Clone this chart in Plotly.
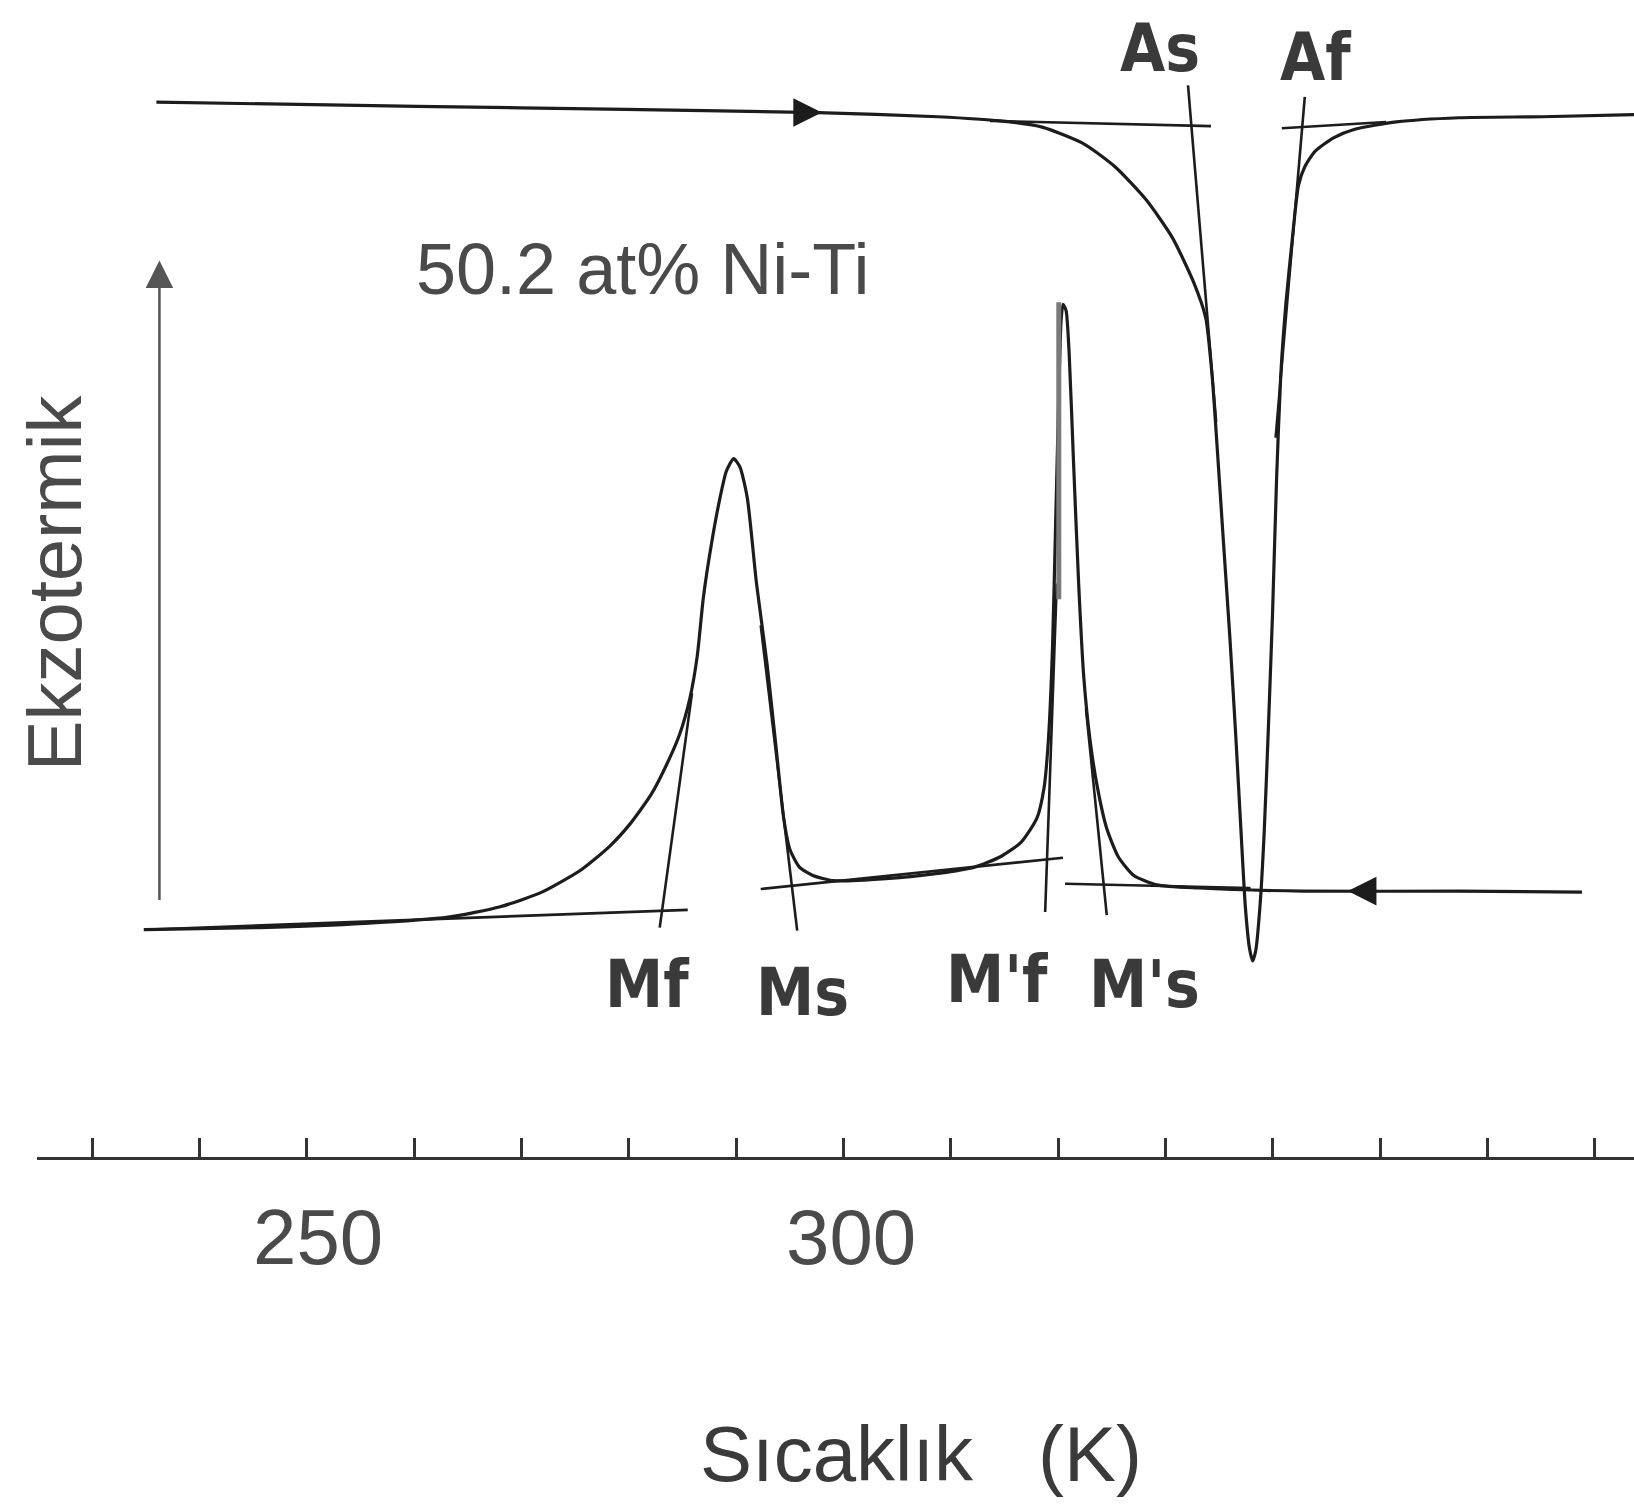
import plotly.graph_objects as go

# ---------------- data (temperature in K, signal in arbitrary units) ----------------
heat_T = [236.0, 260.26, 279.68, 297.64, 308.81, 314.63, 318.52, 322.4, 325.31, 328.23,
          330.65, 332.6, 333.76, 334.35, 334.83, 335.41, 336.0, 336.58, 337.06, 337.45,
          337.84, 338.13, 338.42, 338.81, 339.2, 339.59, 339.98, 340.36, 340.75, 341.24,
          341.82, 342.4, 342.99, 343.96, 345.71, 347.65, 351.53, 357.35, 365.12, 373.67]
heat_sig = [10.13, 10.09, 10.06, 10.03, 9.99, 9.95, 9.89, 9.73, 9.51, 9.19,
            8.83, 8.41, 8.06, 7.51, 6.81, 5.91, 5.01, 4.01, 3.11, 2.41,
            2.01, 1.89, 1.99, 2.41, 3.11, 4.11, 5.21, 6.51, 7.51, 8.21,
            8.81, 9.33, 9.51, 9.66, 9.79, 9.87, 9.94, 9.98, 9.99, 10.01]

cool_T = [234.83, 245.7, 255.41, 263.18, 268.03, 271.91, 275.51, 278.22, 280.17, 282.11,
          283.56, 284.73, 285.7, 286.38, 286.96, 287.74, 288.52, 289.1, 289.78, 290.36,
          291.04, 291.91, 292.89, 293.76, 294.44, 295.02, 295.9, 297.16, 299.1, 303.96,
          308.81, 312.21, 314.63, 316.57, 318.03, 318.71, 319.1, 319.49, 319.78, 320.07,
          320.27, 320.46, 320.75, 321.04, 321.43, 321.92, 322.4, 322.98, 323.66, 324.54,
          325.61, 327.06, 329.2, 333.08, 342.79, 357.35, 368.81]
cool_sig = [2.19, 2.21, 2.25, 2.31, 2.41, 2.55, 2.76, 2.99, 3.21, 3.49,
            3.78, 4.06, 4.41, 4.81, 5.38, 5.91, 6.34, 6.59, 6.71, 6.63,
            6.34, 5.51, 4.74, 3.91, 3.26, 2.96, 2.79, 2.71, 2.66, 2.68,
            2.73, 2.79, 2.89, 3.03, 3.26, 3.56, 4.01, 4.91, 6.11, 7.31,
            8.01, 8.19, 8.13, 7.71, 6.71, 5.51, 4.61, 4.01, 3.56, 3.16,
            2.89, 2.71, 2.62, 2.59, 2.56, 2.56, 2.55]

# construction (tangent) lines: [T_start, T_end], [sig_start, sig_end]
tangent_T = [[313.66, 334.25], [332.11, 334.73], [342.99, 340.27], [340.85, 350.56],
             [234.83, 285.5], [282.89, 285.9], [295.7, 292.3], [292.3, 320.46],
             [318.8, 319.88], [324.54, 322.6], [320.65, 337.93]]
tangent_sig = [[9.95, 9.90], [10.29, 7.06], [10.18, 6.91], [9.88, 9.94],
               [2.19, 2.38], [2.21, 4.46], [2.18, 5.11], [2.58, 2.88],
               [2.36, 5.51], [2.33, 4.31], [2.63, 2.59]]

point_labels = ["As", "Af", "Mf", "Ms", "M'f", "M's"]
label_T = [329.49, 343.96, 281.72, 296.19, 314.34, 328.03]
label_sig = [10.64, 10.56, 1.66, 1.59, 1.71, 1.66]

tick_label_vals = [250, 300]
tick_label_T = [251.04, 300.75]

# scanned-figure marks
artifact_T = [320.07, 320.07]
artifact_sig = [8.21, 5.36]
yarrow_T = 236.28
yarrow_sig = [2.46, 8.61]
heat_arrow = (298.0, 10.03)
cool_arrow = (347.0, 2.56)

x_range = [221.427, 373.66]
y_range = [-3.33, 11.11]
axis_start = 224.83

LINE = "#1c1c1c"
TEXT = "#3a3a3a"

fig = go.Figure()

fig.add_trace(go.Scatter(x=heat_T, y=heat_sig, mode="lines",
                         line=dict(color=LINE, width=3.2, shape="spline", smoothing=0.6),
                         hoverinfo="skip", showlegend=False))
fig.add_trace(go.Scatter(x=cool_T, y=cool_sig, mode="lines",
                         line=dict(color=LINE, width=3.2, shape="spline", smoothing=0.6),
                         hoverinfo="skip", showlegend=False))
for tx, ty in zip(tangent_T, tangent_sig):
    fig.add_trace(go.Scatter(x=tx, y=ty, mode="lines",
                             line=dict(color=LINE, width=2.6),
                             hoverinfo="skip", showlegend=False))
fig.add_trace(go.Scatter(x=artifact_T, y=artifact_sig, mode="lines",
                         line=dict(color="#7a7a7a", width=5),
                         hoverinfo="skip", showlegend=False))

# invisible trace for the ticked temperature axis
fig.add_trace(go.Scatter(x=[250], y=[0], xaxis="x2", yaxis="y", mode="markers",
                         marker=dict(opacity=0), hoverinfo="skip", showlegend=False))

annotations = []
for txt, tx, ty in zip(point_labels, label_T, label_sig):
    annotations.append(dict(x=tx, y=ty, xref="x", yref="y", text=txt, showarrow=False,
                            font=dict(family="DejaVu Sans Condensed, Liberation Sans",
                                      size=65, color=TEXT, weight=700)))
for v, tx in zip(tick_label_vals, tick_label_T):
    annotations.append(dict(x=tx, y=-0.76, xref="x", yref="y", text=str(v), showarrow=False,
                            font=dict(family="Liberation Sans", size=78, color="#4a4a4a")))
annotations.append(dict(x=281.33, y=8.53, xref="x", yref="y", text="50.2 at% Ni-Ti",
                        showarrow=False, font=dict(family="Liberation Sans", size=72, color="#4a4a4a")))
annotations.append(dict(x=226.52, y=5.52, xref="x", yref="y", text="Ekzotermik", textangle=-90,
                        showarrow=False, font=dict(family="Liberation Sans", size=76, color="#4a4a4a")))
annotations.append(dict(x=307.26, y=-2.84, xref="x", yref="y", text="Sıcaklık   (K)",
                        showarrow=False, font=dict(family="Liberation Sans", size=78, color=TEXT)))
# exothermic arrow
annotations.append(dict(x=yarrow_T, y=yarrow_sig[1], ax=yarrow_T, ay=yarrow_sig[0],
                        xref="x", yref="y", axref="x", ayref="y", text="", showarrow=True,
                        arrowhead=2, arrowsize=2.2, arrowwidth=2.5, arrowcolor="#555555"))
# direction arrows
annotations.append(dict(x=heat_arrow[0], y=heat_arrow[1], ax=-30, ay=0, xref="x", yref="y",
                        text="", showarrow=True, arrowhead=2, arrowsize=2.2, arrowwidth=2.6,
                        arrowcolor=LINE))
annotations.append(dict(x=cool_arrow[0], y=cool_arrow[1], ax=30, ay=0, xref="x", yref="y",
                        text="", showarrow=True, arrowhead=2, arrowsize=2.2, arrowwidth=2.6,
                        arrowcolor=LINE))

pos = (0 - y_range[0]) / (y_range[1] - y_range[0])
fig.update_layout(
    width=1634, height=1505,
    margin=dict(l=0, r=0, t=0, b=0),
    paper_bgcolor="white", plot_bgcolor="rgba(0,0,0,0)",
    xaxis=dict(range=x_range, visible=False, domain=[0, 1]),
    xaxis2=dict(range=[axis_start, x_range[1]], anchor="free", position=pos,
                domain=[(axis_start - x_range[0]) / (x_range[1] - x_range[0]), 1],
                showline=True, linecolor="#333333", linewidth=2.5,
                ticks="inside", ticklen=19, tickwidth=2.5, tickcolor="#333333",
                tick0=230, dtick=10, showticklabels=False, showgrid=False, zeroline=False),
    yaxis=dict(range=y_range, visible=False, domain=[0, 1]),
    annotations=annotations,
)

fig.write_html("out.html")
